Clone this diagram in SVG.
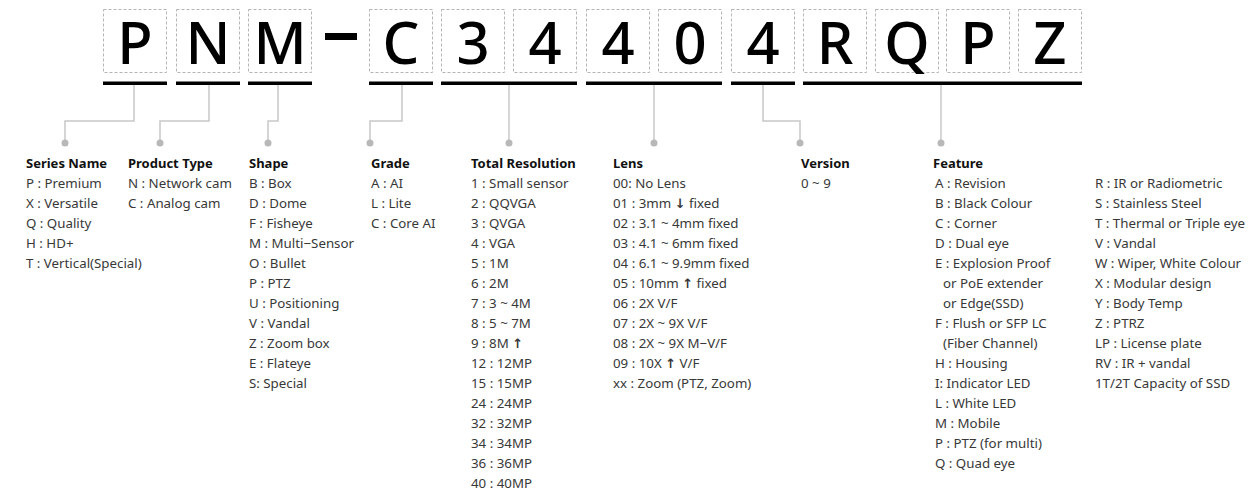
<svg xmlns="http://www.w3.org/2000/svg" width="1251" height="494" viewBox="0 0 1251 494">
<style>
.box{fill:none;stroke:#b5b5b5;stroke-width:1;stroke-dasharray:3 2}
.ch{font-family:"Noto Sans","Liberation Sans",sans-serif;font-size:58px;font-weight:500;fill:#000;text-anchor:middle}
.ul{fill:#000}
.con{fill:none;stroke:#c8c8c8;stroke-width:1.5}
.dot{fill:#b8b8b8}
.hd{font-family:"Noto Sans","Liberation Sans",sans-serif;font-size:13px;font-weight:700;fill:#111;letter-spacing:0}
.it{font-family:"Noto Sans","Liberation Sans",sans-serif;font-size:13.3px;fill:#383838;letter-spacing:0}
.ar{font-family:"DejaVu Sans",sans-serif;font-weight:700;font-size:13px}
</style>
<rect width="1251" height="494" fill="#fff"/>
<g id="code">
<g id="c-P1"><rect class="box" x="103.5" y="9.5" width="63" height="63"/><text class="ch" x="135" y="64">P</text></g>
<g id="c-N"><rect class="box" x="176.5" y="9.5" width="63" height="63"/><text class="ch" x="208" y="64">N</text></g>
<g id="c-M"><rect class="box" x="248.5" y="9.5" width="63" height="63"/><text class="ch" x="280" y="64">M</text></g>
<rect id="dash" x="325" y="33" width="32" height="7" fill="#000"/>
<g id="c-C"><rect class="box" x="369.5" y="9.5" width="63" height="63"/><text class="ch" x="401" y="64">C</text></g>
<g id="c-3"><rect class="box" x="441.5" y="9.5" width="63" height="63"/><text class="ch" x="473" y="64">3</text></g>
<g id="c-4a"><rect class="box" x="513.5" y="9.5" width="63" height="63"/><text class="ch" x="545" y="64">4</text></g>
<g id="c-4b"><rect class="box" x="586.5" y="9.5" width="63" height="63"/><text class="ch" x="618" y="64">4</text></g>
<g id="c-0"><rect class="box" x="658.5" y="9.5" width="63" height="63"/><text class="ch" x="690" y="64">0</text></g>
<g id="c-4c"><rect class="box" x="731.5" y="9.5" width="63" height="63"/><text class="ch" x="763" y="64">4</text></g>
<g id="c-R"><rect class="box" x="803.5" y="9.5" width="63" height="63"/><text class="ch" x="835" y="64">R</text></g>
<g id="c-Q"><rect class="box" x="875.5" y="9.5" width="63" height="63"/><text class="ch" x="907" y="64">Q</text></g>
<g id="c-P2"><rect class="box" x="946.5" y="9.5" width="63" height="63"/><text class="ch" x="978" y="64">P</text></g>
<g id="c-Z"><rect class="box" x="1018.5" y="9.5" width="63" height="63"/><text class="ch" x="1050" y="64">Z</text></g>
</g>
<g id="underlines">
<rect class="ul" x="103" y="81.5" width="64" height="3.5"/>
<rect class="ul" x="176" y="81.5" width="64" height="3.5"/>
<rect class="ul" x="248" y="81.5" width="64" height="3.5"/>
<rect class="ul" x="369" y="81.5" width="64" height="3.5"/>
<rect class="ul" x="441" y="81.5" width="136" height="3.5"/>
<rect class="ul" x="586" y="81.5" width="136" height="3.5"/>
<rect class="ul" x="731" y="81.5" width="64" height="3.5"/>
<rect class="ul" x="803" y="81.5" width="279" height="3.5"/>
</g>
<g id="connectors">
<path class="con" d="M134 85V121H65V143"/>
<path class="con" d="M209 85V121H160V143"/>
<path class="con" d="M278 85V121H268V143"/>
<path class="con" d="M402 85V121H370V143"/>
<path class="con" d="M509 85V143"/>
<path class="con" d="M654 85V143"/>
<path class="con" d="M763 85V121H800V143"/>
<path class="con" d="M941 85V143"/>
<circle class="dot" cx="65" cy="143" r="3.5"/>
<circle class="dot" cx="160" cy="143" r="3.5"/>
<circle class="dot" cx="268" cy="143" r="3.5"/>
<circle class="dot" cx="370" cy="143" r="3.5"/>
<circle class="dot" cx="509" cy="143" r="3.5"/>
<circle class="dot" cx="654" cy="143" r="3.5"/>
<circle class="dot" cx="800" cy="143" r="3.5"/>
<circle class="dot" cx="941" cy="143" r="3.5"/>
</g>
<g id="series">
<text class="hd" x="26" y="168">Series Name</text>
<text class="it" x="26" y="188">P : Premium</text>
<text class="it" x="26" y="208">X : Versatile</text>
<text class="it" x="26" y="228">Q : Quality</text>
<text class="it" x="26" y="248">H : HD+</text>
<text class="it" x="26" y="268">T : Vertical(Special)</text>
</g>
<g id="product">
<text class="hd" x="128" y="168">Product Type</text>
<text class="it" x="128" y="188">N : Network cam</text>
<text class="it" x="128" y="208">C : Analog cam</text>
</g>
<g id="shape">
<text class="hd" x="249" y="168">Shape</text>
<text class="it" x="249" y="188">B : Box</text>
<text class="it" x="249" y="208">D : Dome</text>
<text class="it" x="249" y="228">F : Fisheye</text>
<text class="it" x="249" y="248">M : Multi−Sensor</text>
<text class="it" x="249" y="268">O : Bullet</text>
<text class="it" x="249" y="288">P : PTZ</text>
<text class="it" x="249" y="308">U : Positioning</text>
<text class="it" x="249" y="328">V : Vandal</text>
<text class="it" x="249" y="348">Z : Zoom box</text>
<text class="it" x="249" y="368">E : Flateye</text>
<text class="it" x="249" y="388">S: Special</text>
</g>
<g id="grade">
<text class="hd" x="371" y="168">Grade</text>
<text class="it" x="371" y="188">A : AI</text>
<text class="it" x="371" y="208">L : Lite</text>
<text class="it" x="371" y="228">C : Core AI</text>
</g>
<g id="resolution">
<text class="hd" x="471" y="168">Total Resolution</text>
<text class="it" x="471" y="188">1 : Small sensor</text>
<text class="it" x="471" y="208">2 : QQVGA</text>
<text class="it" x="471" y="228">3 : QVGA</text>
<text class="it" x="471" y="248">4 : VGA</text>
<text class="it" x="471" y="268">5 : 1M</text>
<text class="it" x="471" y="288">6 : 2M</text>
<text class="it" x="471" y="308">7 : 3 ~ 4M</text>
<text class="it" x="471" y="328">8 : 5 ~ 7M</text>
<text class="it" x="471" y="348">9 : 8M <tspan class="ar">↑</tspan></text>
<text class="it" x="471" y="368">12 : 12MP</text>
<text class="it" x="471" y="388">15 : 15MP</text>
<text class="it" x="471" y="408">24 : 24MP</text>
<text class="it" x="471" y="428">32 : 32MP</text>
<text class="it" x="471" y="448">34 : 34MP</text>
<text class="it" x="471" y="468">36 : 36MP</text>
<text class="it" x="471" y="488">40 : 40MP</text>
</g>
<g id="lens">
<text class="hd" x="613" y="168">Lens</text>
<text class="it" x="613" y="188">00: No Lens</text>
<text class="it" x="613" y="208">01 : 3mm <tspan class="ar">↓</tspan> fixed</text>
<text class="it" x="613" y="228">02 : 3.1 ~ 4mm fixed</text>
<text class="it" x="613" y="248">03 : 4.1 ~ 6mm fixed</text>
<text class="it" x="613" y="268">04 : 6.1 ~ 9.9mm fixed</text>
<text class="it" x="613" y="288">05 : 10mm <tspan class="ar">↑</tspan> fixed</text>
<text class="it" x="613" y="308">06 : 2X V/F</text>
<text class="it" x="613" y="328">07 : 2X ~ 9X V/F</text>
<text class="it" x="613" y="348">08 : 2X ~ 9X M−V/F</text>
<text class="it" x="613" y="368">09 : 10X <tspan class="ar">↑</tspan> V/F</text>
<text class="it" x="613" y="388">xx : Zoom (PTZ, Zoom)</text>
</g>
<g id="version">
<text class="hd" x="801" y="168">Version</text>
<text class="it" x="801" y="188">0 ~ 9</text>
</g>
<g id="feature">
<text class="hd" x="933" y="168">Feature</text>
<text class="it" x="935" y="188">A : Revision</text>
<text class="it" x="935" y="208">B : Black Colour</text>
<text class="it" x="935" y="228">C : Corner</text>
<text class="it" x="935" y="248">D : Dual eye</text>
<text class="it" x="935" y="268">E : Explosion Proof</text>
<text class="it" x="943" y="288">or PoE extender</text>
<text class="it" x="943" y="308">or Edge(SSD)</text>
<text class="it" x="935" y="328">F : Flush or SFP LC</text>
<text class="it" x="943" y="348">(Fiber Channel)</text>
<text class="it" x="935" y="368">H : Housing</text>
<text class="it" x="935" y="388">I: Indicator LED</text>
<text class="it" x="935" y="408">L : White LED</text>
<text class="it" x="935" y="428">M : Mobile</text>
<text class="it" x="935" y="448">P : PTZ (for multi)</text>
<text class="it" x="935" y="468">Q : Quad eye</text>
<text class="it" x="1095" y="188">R : IR or Radiometric</text>
<text class="it" x="1095" y="208">S : Stainless Steel</text>
<text class="it" x="1095" y="228">T : Thermal or Triple eye</text>
<text class="it" x="1095" y="248">V : Vandal</text>
<text class="it" x="1095" y="268">W : Wiper, White Colour</text>
<text class="it" x="1095" y="288">X : Modular design</text>
<text class="it" x="1095" y="308">Y : Body Temp</text>
<text class="it" x="1095" y="328">Z : PTRZ</text>
<text class="it" x="1095" y="348">LP : License plate</text>
<text class="it" x="1095" y="368">RV : IR + vandal</text>
<text class="it" x="1095" y="388">1T/2T Capacity of SSD</text>
</g>
</svg>
